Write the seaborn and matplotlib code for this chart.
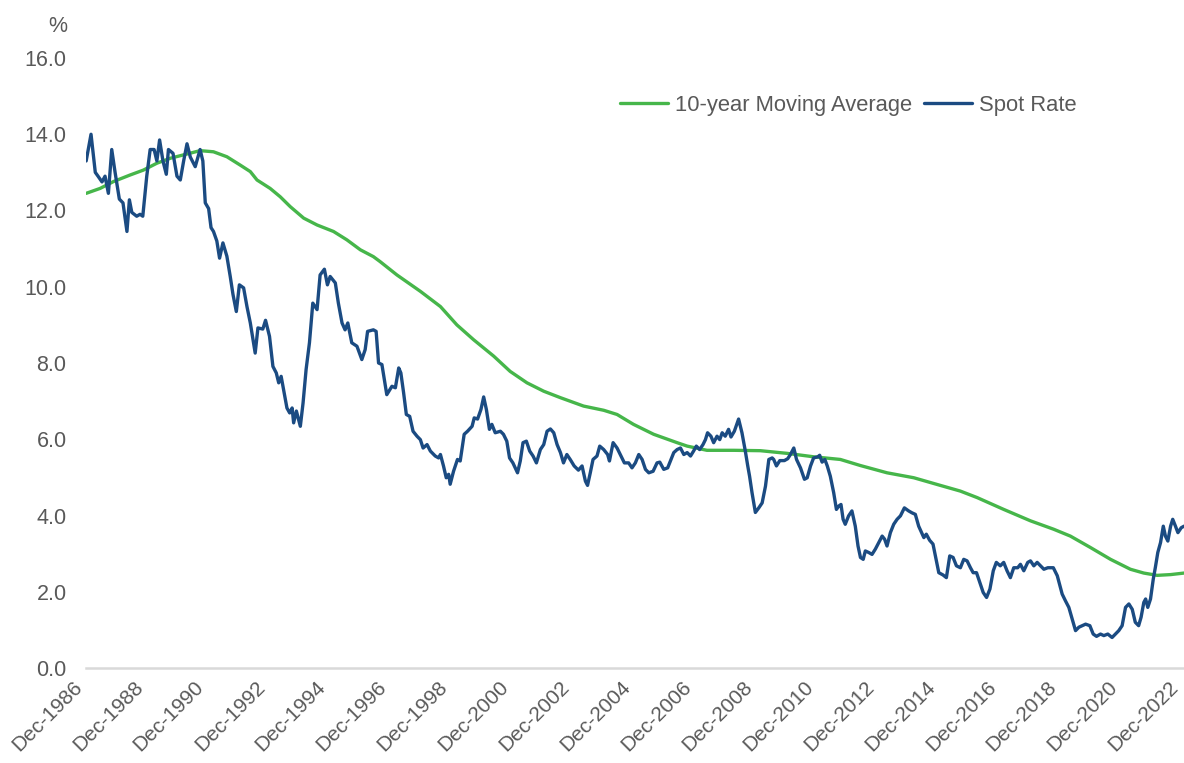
import numpy as np
import pandas as pd
import seaborn as sns
import matplotlib.pyplot as plt
import matplotlib.dates as mdates
from matplotlib.transforms import ScaledTranslation

# Spot rate (decimal year, %)
spot_years = [
    1986.92, 1987.08, 1987.22, 1987.31, 1987.44, 1987.54, 1987.65, 1987.76, 1987.87, 1988.01,
    1988.13, 1988.26, 1988.34, 1988.42, 1988.58, 1988.69, 1988.78, 1988.91, 1989.02, 1989.15,
    1989.24, 1989.33, 1989.44, 1989.55, 1989.62, 1989.77, 1989.90, 1990.01, 1990.12, 1990.23,
    1990.34, 1990.50, 1990.66, 1990.75, 1990.83, 1990.94, 1991.02, 1991.10, 1991.21, 1991.30,
    1991.41, 1991.54, 1991.65, 1991.74, 1991.85, 1991.95, 1992.09, 1992.20, 1992.31, 1992.47,
    1992.56, 1992.72, 1992.81, 1992.94, 1993.05, 1993.16, 1993.24, 1993.32, 1993.42, 1993.51,
    1993.60, 1993.68, 1993.73, 1993.82, 1993.95, 1994.04, 1994.14, 1994.25, 1994.36, 1994.50,
    1994.60, 1994.74, 1994.84, 1994.93, 1995.10, 1995.20, 1995.32, 1995.42, 1995.51, 1995.64,
    1995.81, 1995.97, 1996.08, 1996.16, 1996.35, 1996.44, 1996.52, 1996.63, 1996.79, 1996.96,
    1997.07, 1997.18, 1997.25, 1997.34, 1997.43, 1997.54, 1997.65, 1997.78, 1997.89, 1997.98,
    1998.11, 1998.22, 1998.38, 1998.49, 1998.55, 1998.65, 1998.74, 1998.82, 1998.87, 1998.98,
    1999.11, 1999.20, 1999.33, 1999.44, 1999.59, 1999.66, 1999.77, 1999.88, 1999.97, 2000.06,
    2000.16, 2000.24, 2000.35, 2000.52, 2000.62, 2000.73, 2000.82, 2000.93, 2001.08, 2001.17,
    2001.26, 2001.37, 2001.48, 2001.59, 2001.70, 2001.83, 2001.94, 2002.05, 2002.16, 2002.27,
    2002.38, 2002.49, 2002.59, 2002.70, 2002.81, 2002.94, 2003.08, 2003.20, 2003.31, 2003.38,
    2003.47, 2003.56, 2003.69, 2003.78, 2003.91, 2004.04, 2004.10, 2004.22, 2004.35, 2004.48,
    2004.59, 2004.73, 2004.84, 2004.95, 2005.06, 2005.17, 2005.28, 2005.39, 2005.53, 2005.66,
    2005.75, 2005.88, 2006.01, 2006.10, 2006.21, 2006.32, 2006.43, 2006.54, 2006.65, 2006.76,
    2006.86, 2006.95, 2007.06, 2007.17, 2007.25, 2007.32, 2007.43, 2007.52, 2007.63, 2007.72,
    2007.80, 2007.90, 2008.01, 2008.09, 2008.20, 2008.34, 2008.45, 2008.56, 2008.64, 2008.70,
    2008.78, 2008.89, 2009.00, 2009.11, 2009.22, 2009.33, 2009.44, 2009.49, 2009.58, 2009.69,
    2009.84, 2009.95, 2010.04, 2010.15, 2010.24, 2010.37, 2010.50, 2010.59, 2010.70, 2010.80,
    2010.94, 2011.00, 2011.08, 2011.17, 2011.25, 2011.35, 2011.46, 2011.55, 2011.63, 2011.70,
    2011.77, 2011.84, 2011.95, 2012.06, 2012.17, 2012.26, 2012.34, 2012.43, 2012.50, 2012.61,
    2012.72, 2012.83, 2012.94, 2013.05, 2013.13, 2013.21, 2013.32, 2013.43, 2013.54, 2013.65,
    2013.78, 2013.92, 2014.03, 2014.14, 2014.25, 2014.42, 2014.50, 2014.61, 2014.72, 2014.80,
    2014.91, 2015.05, 2015.16, 2015.27, 2015.38, 2015.49, 2015.62, 2015.73, 2015.84, 2015.95,
    2016.04, 2016.15, 2016.26, 2016.37, 2016.48, 2016.59, 2016.70, 2016.80, 2016.93, 2017.04,
    2017.15, 2017.26, 2017.37, 2017.50, 2017.59, 2017.70, 2017.83, 2017.92, 2018.03, 2018.14,
    2018.25, 2018.36, 2018.49, 2018.67, 2018.80, 2018.96, 2019.07, 2019.18, 2019.29, 2019.40,
    2019.51, 2019.62, 2019.73, 2019.87, 2019.98, 2020.09, 2020.22, 2020.33, 2020.46, 2020.60,
    2020.71, 2020.82, 2020.93, 2021.04, 2021.15, 2021.26, 2021.36, 2021.47, 2021.55, 2021.64,
    2021.70, 2021.77, 2021.86, 2021.95, 2022.02, 2022.10, 2022.19, 2022.28, 2022.35, 2022.43,
    2022.52, 2022.59, 2022.68, 2022.76, 2022.87, 2022.96,
]
spot_values = [
    13.3, 14.0, 13.0, 12.9, 12.75, 12.9, 12.45, 13.6, 13.0, 12.3,
    12.2, 11.45, 12.28, 11.95, 11.85, 11.9, 11.85, 12.9, 13.6, 13.6,
    13.3, 13.85, 13.3, 12.95, 13.6, 13.5, 12.9, 12.8, 13.3, 13.75,
    13.4, 13.15, 13.6, 13.3, 12.2, 12.05, 11.55, 11.45, 11.2, 10.75,
    11.15, 10.8, 10.27, 9.8, 9.35, 10.05, 9.97, 9.48, 9.05, 8.26,
    8.92, 8.89, 9.12, 8.7, 7.91, 7.74, 7.48, 7.65, 7.22, 6.82,
    6.69, 6.82, 6.43, 6.74, 6.34, 6.95, 7.83, 8.53, 9.57, 9.4,
    10.31, 10.46, 10.05, 10.27, 10.1, 9.57, 9.05, 8.87, 9.05, 8.53,
    8.44, 8.09, 8.35, 8.83, 8.87, 8.83, 8.0, 7.96, 7.17, 7.39,
    7.35, 7.87, 7.74, 7.22, 6.65, 6.6, 6.21, 6.08, 5.99, 5.77,
    5.86, 5.69, 5.56, 5.51, 5.6, 5.3, 4.99, 5.08, 4.82, 5.16,
    5.47, 5.43, 6.13, 6.21, 6.34, 6.56, 6.53, 6.78, 7.11, 6.78,
    6.26, 6.39, 6.17, 6.21, 6.13, 5.95, 5.51, 5.38, 5.12, 5.43,
    5.91, 5.95, 5.69, 5.56, 5.38, 5.73, 5.86, 6.21, 6.27, 6.17,
    5.86, 5.65, 5.38, 5.6, 5.47, 5.3, 5.19, 5.3, 4.9, 4.79,
    5.12, 5.47, 5.56, 5.82, 5.73, 5.6, 5.43, 5.91, 5.77, 5.56,
    5.38, 5.38, 5.25, 5.38, 5.6, 5.47, 5.21, 5.12, 5.16, 5.38,
    5.4, 5.21, 5.25, 5.43, 5.65, 5.73, 5.77, 5.6, 5.65, 5.56,
    5.69, 5.82, 5.73, 5.86, 5.99, 6.17, 6.08, 5.91, 6.08, 5.99,
    6.17, 6.08, 6.26, 6.06, 6.21, 6.53, 6.17, 5.69, 5.3, 5.03,
    4.6, 4.08, 4.2, 4.33, 4.77, 5.47, 5.51, 5.47, 5.3, 5.44,
    5.44, 5.49, 5.6, 5.77, 5.47, 5.25, 4.95, 4.99, 5.3, 5.51,
    5.54, 5.58, 5.4, 5.47, 5.3, 5.03, 4.6, 4.16, 4.25, 4.29,
    3.9, 3.77, 3.99, 4.12, 3.72, 3.2, 2.9, 2.85, 3.07, 3.03,
    2.98, 3.12, 3.29, 3.46, 3.38, 3.2, 3.55, 3.77, 3.9, 3.99,
    4.2, 4.12, 4.07, 4.03, 3.72, 3.42, 3.51, 3.35, 3.25, 2.94,
    2.5, 2.44, 2.37, 2.94, 2.9, 2.68, 2.63, 2.85, 2.81, 2.63,
    2.5, 2.5, 2.24, 1.98, 1.85, 2.07, 2.55, 2.77, 2.68, 2.77,
    2.55, 2.37, 2.63, 2.63, 2.72, 2.55, 2.77, 2.81, 2.68, 2.77,
    2.68, 2.59, 2.63, 2.63, 2.42, 1.94, 1.76, 1.59, 1.28, 0.98,
    1.07, 1.11, 1.15, 1.11, 0.89, 0.83, 0.89, 0.85, 0.89, 0.8,
    0.89, 0.98, 1.11, 1.59, 1.68, 1.54, 1.2, 1.11, 1.33, 1.72,
    1.81, 1.59, 1.81, 2.33, 2.64, 3.03, 3.29, 3.72, 3.46, 3.33,
    3.72, 3.9, 3.72, 3.55, 3.68, 3.72,
]

# 10-year moving average
ma_years = [
    1986.92, 1987.38, 1987.82, 1988.36, 1988.80, 1989.24, 1989.68, 1990.12, 1990.66, 1991.10,
    1991.54, 1991.98, 1992.31, 1992.53, 1992.96, 1993.29, 1993.62, 1994.06, 1994.50, 1995.04,
    1995.48, 1995.92, 1996.35, 1996.57, 1997.12, 1997.89, 1998.55, 1999.09, 1999.64, 2000.30,
    2000.84, 2001.39, 2001.94, 2002.49, 2003.25, 2003.91, 2004.35, 2004.89, 2005.55, 2006.32,
    2006.65, 2007.30, 2008.18, 2009.05, 2009.93, 2010.80, 2011.68, 2012.34, 2013.21, 2014.09,
    2014.96, 2015.62, 2016.17, 2017.04, 2017.92, 2018.68, 2019.23, 2019.89, 2020.55, 2021.20,
    2021.64, 2022.08, 2022.52, 2022.96,
]
ma_values = [
    12.45, 12.58, 12.76, 12.93, 13.06, 13.24, 13.37, 13.46, 13.57, 13.54,
    13.41, 13.19, 13.02, 12.8, 12.58, 12.36, 12.1, 11.8, 11.62, 11.45,
    11.23, 10.97, 10.79, 10.66, 10.31, 9.88, 9.48, 9.0, 8.61, 8.18,
    7.78, 7.48, 7.26, 7.09, 6.87, 6.76, 6.65, 6.39, 6.13, 5.91,
    5.82, 5.71, 5.71, 5.7, 5.63, 5.54, 5.47, 5.31, 5.12, 4.99,
    4.79, 4.64, 4.47, 4.16, 3.86, 3.64, 3.46, 3.16, 2.85, 2.59,
    2.49, 2.43, 2.45, 2.49,
]

series_names = ['10-year Moving Average', 'Spot Rate']
colors = ['#46b64a', '#1b4b82']
tick_years = list(range(1986, 2023, 2))


def to_dates(years):
    years = np.asarray(years)
    whole = years.astype(int)
    start = pd.to_datetime([f'{y}-01-01' for y in whole])
    return start + pd.to_timedelta((years - whole) * 365.25, unit='D')


df = pd.concat([
    pd.DataFrame({'date': to_dates(ma_years), 'value': ma_values, 'series': series_names[0]}),
    pd.DataFrame({'date': to_dates(spot_years), 'value': spot_values, 'series': series_names[1]}),
])

sns.set_theme(style='white')
plt.rcParams['font.family'] = ['Liberation Sans', 'DejaVu Sans']
grey = '#595959'

fig = plt.figure(figsize=(11.84, 7.63), dpi=100)
ax = fig.add_axes([86 / 1184, 1 - 668 / 763, 1 - 86 / 1184, (668 - 58) / 763])

sns.lineplot(data=df, x='date', y='value', hue='series', hue_order=series_names,
             palette=colors, linewidth=2.4, estimator=None, ax=ax)

ax.set_ylim(0, 16)
ax.set_yticks(np.arange(0, 17, 2))
ax.yaxis.set_major_formatter(plt.FuncFormatter(lambda v, p: f'{v:.1f}'))
ax.set_xlim(df['date'].min(), df['date'].max())
ax.set_xticks(pd.to_datetime([f'{y}-12-01' for y in tick_years]))
ax.xaxis.set_major_formatter(mdates.DateFormatter('%b-%Y'))
ax.set_xlabel('')
ax.set_ylabel('')

for s in ['top', 'right', 'left']:
    ax.spines[s].set_visible(False)
ax.spines['bottom'].set_color('#d9d9d9')
ax.spines['bottom'].set_linewidth(1.8)

ax.tick_params(axis='y', length=0, pad=14, labelsize=15.5, labelcolor=grey)
ax.tick_params(axis='x', length=0, pad=11.5, labelsize=15, labelcolor=grey)
for lab in ax.get_xticklabels():
    lab.set_rotation(45)
    lab.set_ha('right')
    lab.set_va('center')
    lab.set_rotation_mode('anchor')
    lab.set_transform(lab.get_transform() + ScaledTranslation(-0.07, 0, fig.dpi_scale_trans))

fig.text(67 / 1184, 1 - 27 / 763, '%', ha='right', va='center', fontsize=15.5, color=grey)

handles, labels = ax.get_legend_handles_labels()
ax.legend(handles, labels, loc='center left', bbox_to_anchor=(620 / 1184, 1 - 105 / 763),
          bbox_transform=fig.transFigure, ncol=2, frameon=False, fontsize=15.8,
          handlelength=2.2, handletextpad=0.3, columnspacing=0.55,
          borderpad=0, borderaxespad=0, labelcolor=grey)

plt.savefig('out.png', dpi=100)
